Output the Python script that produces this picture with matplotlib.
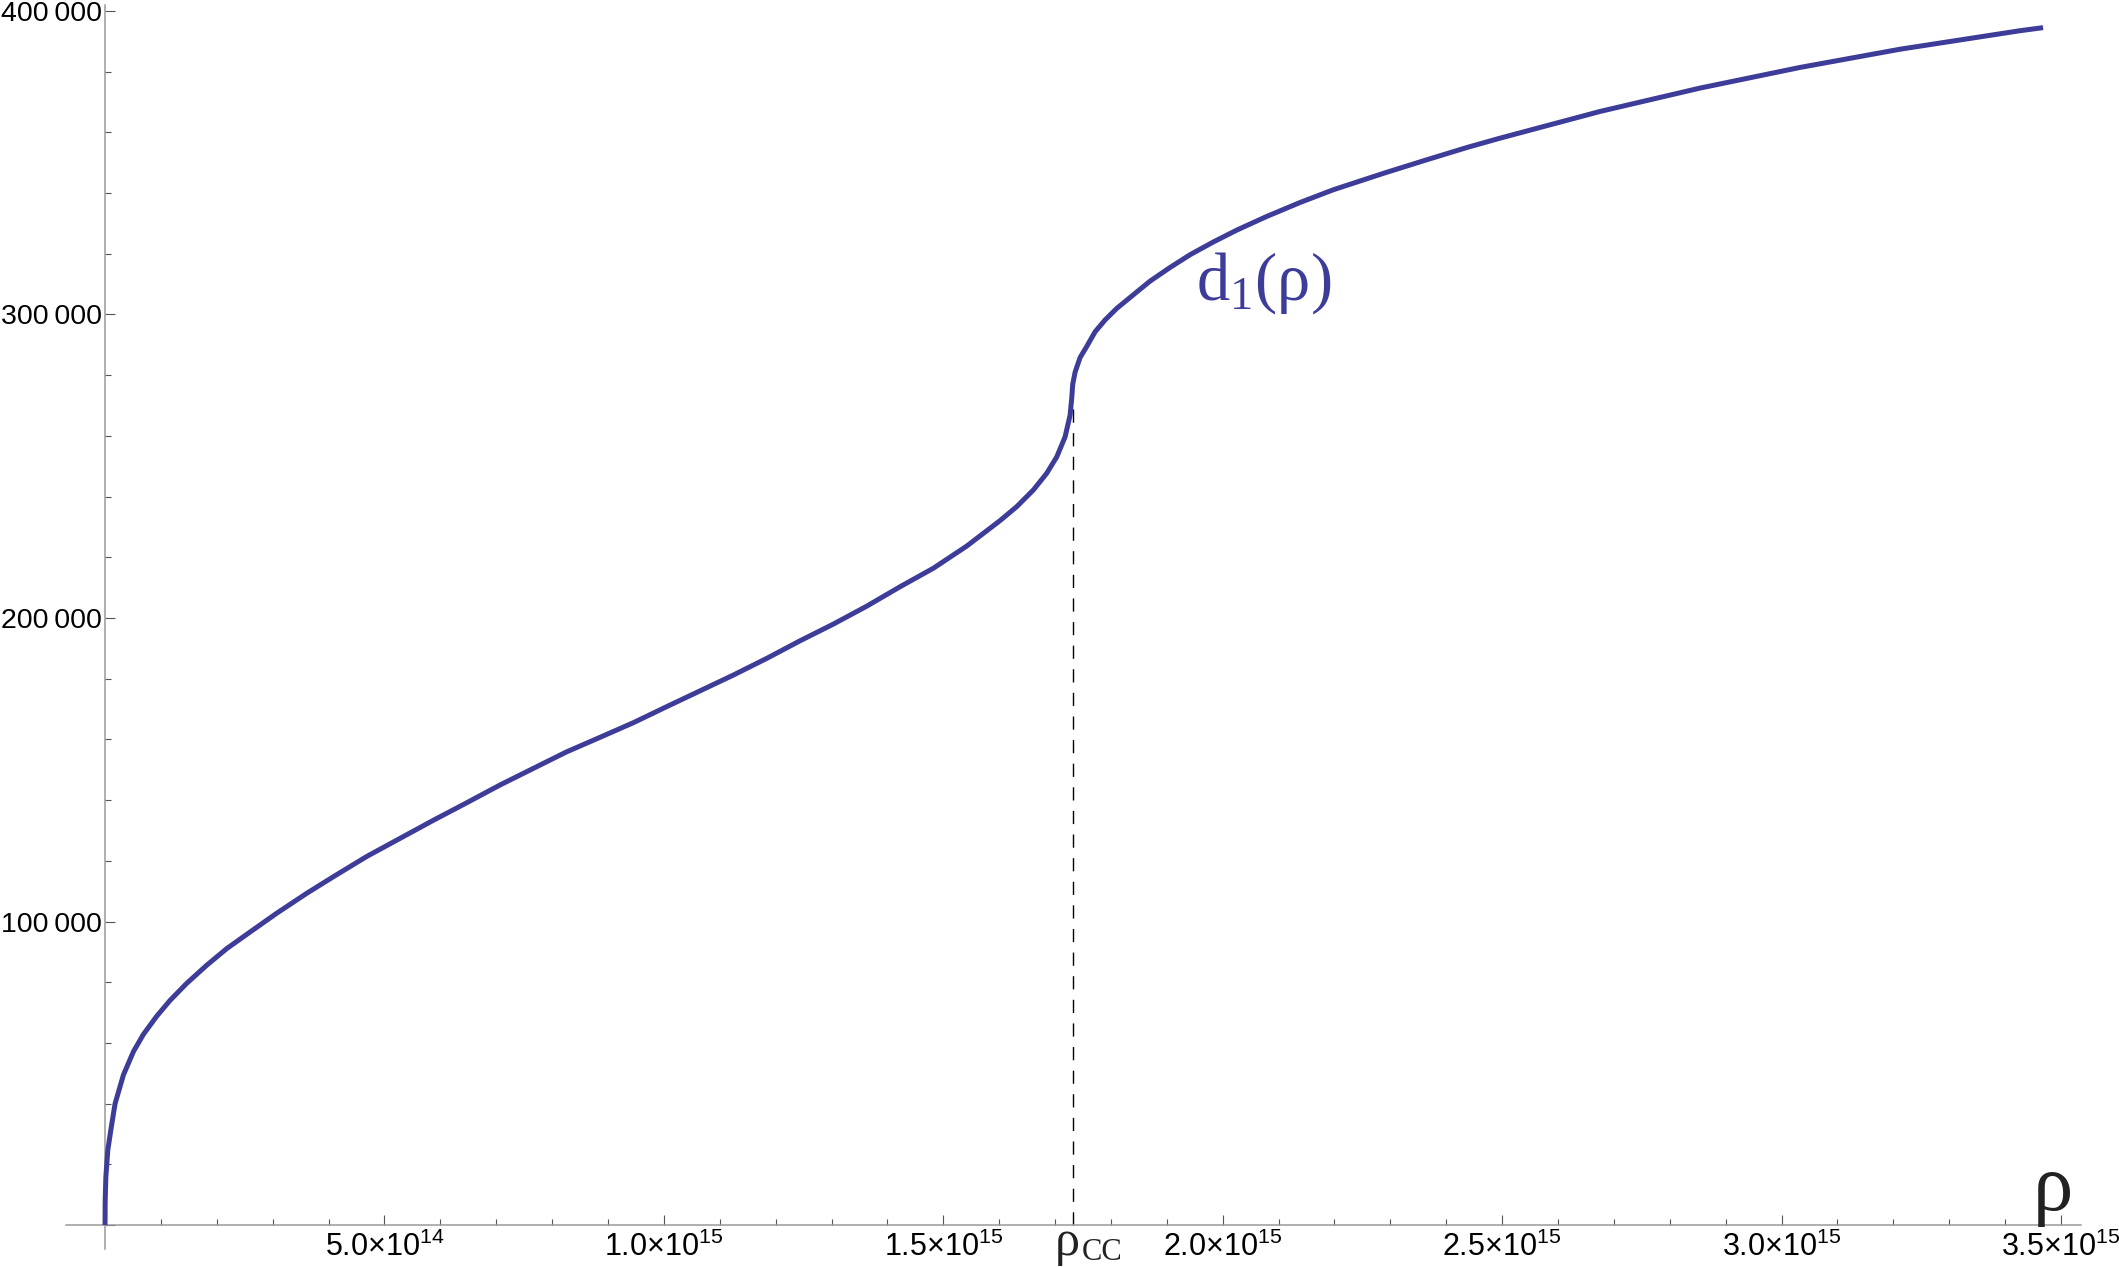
import numpy as np
import matplotlib
matplotlib.use("Agg")
import matplotlib.pyplot as plt
from matplotlib.ticker import FixedLocator, MultipleLocator

plt.rcParams['font.family'] = ['Liberation Sans', 'DejaVu Sans']
plt.rcParams['mathtext.fontset'] = 'custom'
plt.rcParams['mathtext.rm'] = 'Liberation Serif'
plt.rcParams['mathtext.it'] = 'Liberation Serif:italic'
plt.rcParams['mathtext.sf'] = 'Liberation Sans'
plt.rcParams['lines.scale_dashes'] = False

# curve: rho in units of 1e15, d1 in plain units
rho = np.array([0.0, 0.0003, 0.0015, 0.005, 0.011, 0.018, 0.033, 0.051,
                0.0686, 0.0925, 0.1163, 0.146, 0.182, 0.218, 0.26, 0.307,
                0.361, 0.409, 0.468, 0.528, 0.588, 0.647, 0.707, 0.767,
                0.826, 0.886, 0.9454, 1.0052, 1.0648, 1.1244, 1.1842, 1.2438,
                1.3034, 1.3631, 1.4227, 1.4823, 1.542, 1.6017, 1.6315, 1.6613,
                1.6852, 1.7031, 1.718, 1.7269, 1.7299, 1.7316, 1.7359, 1.7448,
                1.7568, 1.7717, 1.7896, 1.8104, 1.8402, 1.8701, 1.9059, 1.9417,
                1.9834, 2.0252, 2.0788, 2.1385, 2.1981, 2.2876, 2.3622, 2.4368,
                2.4965, 2.6754, 2.8544, 3.0333, 3.2122, 3.427, 3.468]) * 1e15
d1 = np.array([0, 8000, 15900, 24700, 32000, 40000, 49500, 57200,
               62800, 68800, 74000, 79600, 85600, 91100, 96600, 102700,
               109300, 114800, 121400, 127400, 133400, 139100, 145000, 150500,
               155900, 160700, 165500, 170800, 176000, 181200, 186700, 192500,
               198000, 203900, 210300, 216400, 223700, 232100, 236700, 242200,
               247700, 253100, 259700, 266800, 272500, 277000, 281000, 285800,
               289500, 294300, 298200, 302000, 306500, 311000, 315500, 319700,
               323900, 327800, 332300, 336900, 341100, 346500, 350800, 355000,
               358100, 366900, 374600, 381400, 387400, 393500, 394500])

rho_cc = 1.7314e15
d_cc = 270000

x_major = np.arange(0, 3.51e15, 5e14)
x_labels = ['', r'$\mathsf{5.0×10^{14}}$', r'$\mathsf{1.0×10^{15}}$',
            r'$\mathsf{1.5×10^{15}}$', r'$\mathsf{2.0×10^{15}}$',
            r'$\mathsf{2.5×10^{15}}$', r'$\mathsf{3.0×10^{15}}$',
            r'$\mathsf{3.5×10^{15}}$']
y_major = [0, 100000, 200000, 300000, 400000]
y_labels = ['', '100\u2009000', '200\u2009000', '300\u2009000', '400\u2009000']

blue = '#3d3d99'
axis_gray = '#9a9a9a'
text_dark = '#222222'

fig = plt.figure(figsize=(21.19, 12.67), dpi=100)
ax = fig.add_axes([0.0311, 0.0142, 0.951, 0.9817])

ax.plot(rho, d1, color=blue, lw=3.6, solid_capstyle='butt',
        solid_joinstyle='round', zorder=3)
ax.plot([rho_cc, rho_cc], [0, d_cc], color='black', lw=1.0,
        dashes=(9.5, 7.5), zorder=2)

ax.set_xlim(-0.07e15, 3.536e15)
ax.set_ylim(-7900, 401900)

for side in ['top', 'right']:
    ax.spines[side].set_visible(False)
for side in ['left', 'bottom']:
    ax.spines[side].set_position(('data', 0))
    ax.spines[side].set_color(axis_gray)
    ax.spines[side].set_linewidth(1.1)

ax.xaxis.set_major_locator(FixedLocator(x_major))
ax.set_xticklabels(x_labels)
ax.xaxis.set_minor_locator(MultipleLocator(1e14))
ax.yaxis.set_major_locator(FixedLocator(y_major))
ax.set_yticklabels(y_labels)
ax.yaxis.set_minor_locator(MultipleLocator(20000))

ax.tick_params(which='both', direction='in', color='#555555', width=0.8)
ax.tick_params(which='major', length=7.5)
ax.tick_params(which='minor', length=4.5)
ax.tick_params(axis='x', which='major', labelsize=22, pad=5)
ax.tick_params(axis='y', which='major', labelsize=20.5, pad=2)

ax.text(1.952e15, 304800, r'$\mathrm{d_1(ρ)}$', color=blue, fontsize=48,
        ha='left', va='baseline')
ax.text(3.485e15, -800, 'ρ', color=text_dark, fontsize=58,
        family='Liberation Serif', ha='center', va='bottom', clip_on=False)

# rho_CC label under the dashed line: big rho, smaller CC
ax.annotate('ρ', xy=(1.700e15, -10000), color=text_dark, fontsize=36,
            family='Liberation Serif', ha='left', va='baseline',
            annotation_clip=False)
ax.annotate('CC', xy=(1.700e15, -10000), xytext=(19, -3.5),
            textcoords='offset points', color=text_dark, fontsize=22,
            family='Liberation Serif', ha='left', va='baseline',
            annotation_clip=False)

fig.savefig('out.png', dpi=100)
